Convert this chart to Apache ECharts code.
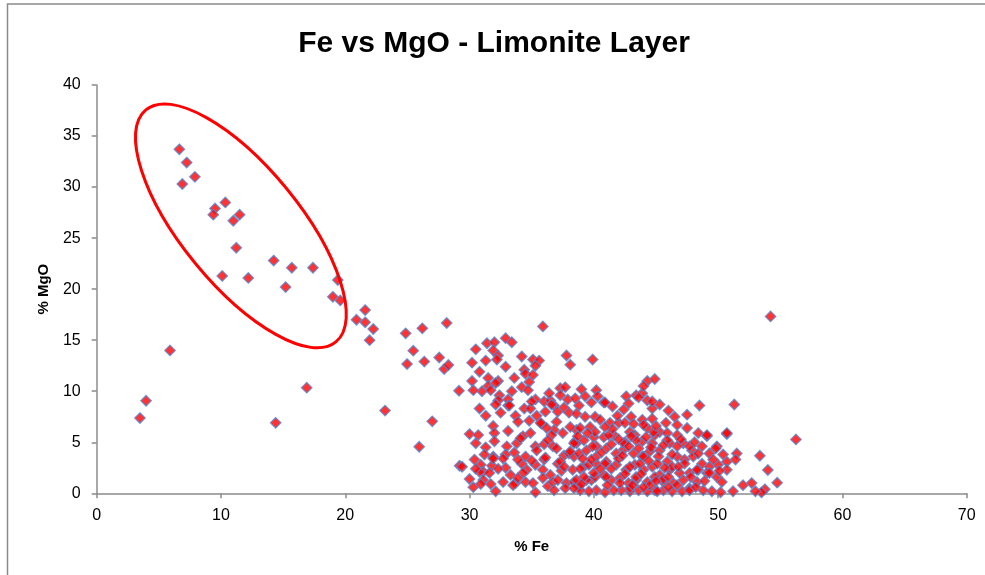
<!DOCTYPE html>
<html>
<head>
<meta charset="utf-8">
<script src="https://cdn.jsdelivr.net/npm/echarts@6/dist/echarts.min.js"></script>
<style>
  html, body { margin: 0; padding: 0; background: #fff; }
  #chart { width: 985px; height: 575px; }
</style>
</head>
<body>
<div id="chart"></div>
<script>
// Fe (%) vs MgO (%) assays, limonite layer. Each pair is [Fe, MgO].

// High-MgO samples at low Fe (the circled group)
const highMgoSamples = [
  [6.65, 33.7], [7.24, 32.4], [7.9, 31.0], [6.89, 30.3], [10.35, 28.5], [9.52, 27.9],
  [9.38, 27.3], [11.5, 27.3], [10.99, 26.7], [11.23, 24.05], [14.24, 22.8], [15.7, 22.1],
  [17.4, 22.1], [10.1, 21.3], [12.2, 21.1], [15.2, 20.2], [19.4, 20.9]
];

// Transitional and outlying samples
const outlierSamples = [
  [19.0, 19.25], [19.6, 18.9], [21.6, 17.95], [20.9, 17.0], [21.6, 16.75], [22.25, 16.1],
  [21.96, 15.0], [5.9, 14.0], [3.97, 9.07], [3.48, 7.37], [16.9, 10.35], [14.4, 6.9],
  [23.2, 8.1], [24.86, 15.67], [26.2, 16.16], [28.16, 16.68], [25.47, 13.97], [24.97, 12.66],
  [26.36, 12.9], [27.56, 13.3], [27.96, 12.17], [28.3, 12.57], [27.0, 7.05], [25.95, 4.56],
  [29.15, 10.05], [29.2, 2.7], [35.9, 16.35], [54.22, 17.33], [56.26, 5.28], [54.0, 2.28],
  [54.75, 1.04], [53.76, 0.39], [53.49, 0.09], [53.36, 3.68]
];

// Main limonite cluster, Fe 30-39 %
const clusterLowFe = [
  [30.5,14.1],[31.4,14.7],[32.0,14.8],[31.9,14.0],[32.3,13.5],[32.2,13.1],[32.9,15.2],[33.4,14.8],
  [34.2,13.4],[35.1,13.1],[35.6,13.0],[35.3,12.5],[34.4,12.1],[34.5,11.7],[35.1,11.6],[34.8,10.9],
  [34.2,10.4],[34.7,10.1],[30.2,12.8],[31.3,13.0],[30.8,11.9],[31.5,11.3],[30.2,11.0],[32.3,11.0],
  [31.5,10.5],[31.0,10.0],[31.7,10.1],[30.3,10.1],[32.4,9.6],[32.3,9.1],[33.1,9.2],[33.4,10.0],
  [32.1,8.7],[33.1,8.6],[30.8,8.3],[32.5,7.9],[34.4,8.3],[34.9,8.3],[33.7,7.6],[33.9,7.0],
  [34.8,7.1],[35.4,7.6],[35.8,6.8],[35.3,9.2],[36.0,9.0],[36.5,9.1],[36.8,8.6],[36.1,8.0],
  [37.1,8.0],[37.3,10.3],[37.7,10.4],[37.3,9.6],[37.9,9.2],[37.6,8.4],[38.0,7.9],[37.8,13.5],
  [38.1,12.6],[37.0,7.0],[36.8,6.2],[37.5,5.9],[36.6,5.7],[38.6,6.2],[38.5,5.1],[30.0,5.8],
  [30.7,5.7],[30.5,4.9],[31.3,4.5],[31.9,6.6],[32.0,5.9],[32.0,5.1],[33.0,4.6],[32.9,3.8],
  [33.6,4.0],[33.8,4.9],[34.3,5.6],[35.3,4.6],[36.0,4.8],[36.7,4.6],[37.6,3.7],[38.0,3.9],
  [38.6,4.9],[30.4,3.3],[30.9,2.8],[31.1,2.1],[31.8,2.7],[31.9,3.6],[32.7,3.4],[32.9,2.5],
  [33.3,1.8],[34.2,2.9],[34.5,3.6],[34.6,2.3],[35.3,2.8],[36.0,3.3],[35.9,2.3],[36.5,1.8],
  [37.1,2.9],[37.4,2.2],[38.3,2.3],[30.0,1.4],[30.3,0.6],[31.1,1.3],[31.6,2.0],[31.7,0.9],
  [32.1,0.2],[32.7,1.1],[33.7,1.0],[34.5,1.1],[35.1,1.0],[35.3,0.1],[35.9,1.5],[36.3,0.7],
  [36.7,1.1],[37.1,1.3],[37.8,1.0],[37.7,0.5],[38.4,1.1],[34.3,2.0],[30.8,2.1],
  [32.1,10.8],[35.0,9.0],[35.7,6.9],[36.6,8.7],[34.1,5.4],[35.4,4.2],[36.1,3.5],[37.3,3.1],
  [38.4,3.6],[39.2,2.6],[33.5,0.8],[38.8,0.7],[39.8,1.3],[29.4,2.6],[31.9,3.4],[33.2,8.6],
  [36.3,5.2],[37.0,4.4],[35.0,3.2],[33.9,3.3],[32.3,2.4],[31.2,3.8],[30.5,2.4],[30.9,0.9],
  [33.9,1.5],[36.8,0.3],[37.6,2.6],[36.2,6.4],[34.9,5.9],[33.1,6.1],[31.3,7.6],[33.6,11.3],
  [32.9,12.4],[36.4,9.8],[38.8,8.6]
];

// Main limonite cluster, Fe 38-53 %
const clusterHighFe = [
  [39.9,13.1],[44.3,11.0],[44.9,11.2],[40.2,10.1],[39.0,10.2],[38.5,9.3],[39.3,9.5],[39.8,8.9],
  [40.8,8.9],[42.6,9.5],[43.4,9.6],[43.9,9.8],[44.3,9.1],[44.7,8.3],[45.3,8.7],[42.4,8.2],
  [43.0,7.5],[48.5,8.6],[51.3,8.7],[47.5,7.7],[46.5,7.5],[43.9,7.2],[44.7,7.3],[38.6,7.8],
  [39.3,7.5],[40.1,7.5],[40.5,7.2],[38.1,6.5],[38.9,6.4],[39.7,6.5],[41.3,6.9],[42.0,6.9],
  [42.5,6.9],[43.2,6.8],[44.3,6.4],[45.3,6.0],[45.9,5.9],[46.7,6.7],[47.5,6.4],[48.4,5.9],
  [49.1,5.6],[50.7,5.8],[51.5,3.9],[49.9,4.6],[50.4,3.8],[49.3,3.9],[48.7,4.6],[47.9,4.2],
  [47.2,4.9],[46.7,4.6],[46.1,4.9],[45.3,4.2],[44.7,4.9],[43.9,5.1],[43.3,5.7],[42.5,5.0],
  [41.6,5.7],[40.8,5.5],[40.0,5.5],[39.2,5.2],[38.4,4.9],[38.1,4.1],[38.8,3.9],[39.4,4.2],
  [40.2,4.6],[41.0,4.4],[41.8,3.9],[42.4,4.3],[43.2,3.9],[43.9,3.6],[44.5,4.1],[45.2,3.6],
  [45.9,3.1],[46.7,3.6],[47.3,3.3],[48.0,3.6],[48.7,2.9],[49.3,2.6],[50.0,2.8],[50.7,3.1],
  [51.4,3.3],[52.0,0.8],[52.7,1.0],[53.0,0.2],[51.2,0.2],[50.2,0.1],[49.5,0.2],[48.8,0.3],
  [48.3,1.1],[47.7,2.0],[48.4,2.3],[49.1,2.0],[49.9,1.6],[50.7,2.3],[50.3,1.1],[46.9,2.0],
  [46.1,2.3],[45.3,1.8],[44.7,2.6],[44.0,2.3],[43.3,2.8],[42.6,2.3],[41.8,2.8],[41.0,3.1],
  [40.2,2.9],[39.6,2.8],[38.9,2.4],[38.6,1.3],[39.4,1.3],[40.1,1.6],[40.8,1.8],[41.4,1.3],
  [42.1,1.5],[42.8,1.0],[43.4,1.3],[44.3,1.1],[44.9,1.6],[45.6,1.1],[46.4,1.0],[47.2,1.3],
  [47.7,0.5],[47.1,0.2],[46.3,0.2],[45.6,0.3],[44.9,0.3],[44.3,0.2],[43.6,0.3],[42.9,0.2],
  [42.2,0.3],[41.6,0.3],[40.9,0.1],[40.2,0.3],[39.6,0.2],[38.9,0.3],[38.4,0.5],[39.2,1.6],
  [43.4,5.2],[44.9,5.7],[42.9,6.0],
  [40.9,8.9],[43.6,9.4],[44.7,9.0],[49.1,5.7],[49.8,4.4],[50.7,5.9],[40.1,6.0],[41.2,5.7],
  [42.4,4.9],[43.0,5.6],[44.0,6.7],[44.8,6.0],[45.9,5.2],[46.7,5.7],[47.7,4.6],[48.4,3.9],
  [40.2,3.6],[40.9,2.9],[42.0,3.4],[42.9,2.6],[44.0,3.6],[45.1,2.9],[46.3,2.6],[47.3,2.9],
  [48.3,2.3],[49.3,2.0],[40.0,2.0],[41.0,1.6],[42.1,1.0],[43.4,1.6],[44.5,0.8],[45.6,1.4],
  [46.7,0.8],[47.7,0.3],[42.9,0.5],[45.1,0.2],
  [41.5,6.3],[42.0,5.3],[42.8,4.6],[43.6,4.4],[44.2,5.5],[44.6,4.5],[45.6,4.7],[46.3,3.8],
  [45.7,2.5],[44.4,3.2],[43.7,2.9],[42.3,3.7],[41.4,4.8],[40.6,4.0],[39.8,3.3],[39.1,3.4],
  [39.9,4.6],[41.4,2.4],[42.5,1.9],[43.8,1.9],[45.0,1.2],[46.0,1.6],[46.8,2.6],[47.8,1.6],
  [48.9,1.2],[49.6,3.3],[50.1,2.2],[41.1,0.8],[43.1,0.8],[44.0,0.6],[46.0,0.6],[48.2,0.6],
  [39.0,0.9],[40.5,2.4],[45.0,6.6],[45.8,6.9],[47.0,5.3],[48.1,5.0],[41.9,7.6],[40.9,6.5],
  [39.5,5.9],[38.7,5.6],[40.3,9.5],[41.5,8.5],[42.8,8.8],[46.0,8.1],[44.0,10.5]
];

// Outline drawn around the high-MgO group: centre in data units, radii in pixels
const groupOutlineCentre = [11.6, 26.2];

const chart = echarts.init(document.getElementById('chart'), null, { renderer: 'canvas' });

const markerStyle = {
  color: '#FF0000',
  borderColor: '#5687CF',
  borderWidth: 1.3
};

function diamondSeries(name, data) {
  return {
    name: name,
    type: 'scatter',
    data: data,
    symbol: 'diamond',
    symbolSize: 10.5,
    itemStyle: markerStyle,
    emphasis: { disabled: true },
    z: 2
  };
}

const axisGrey = '#8C8C8C';
const labelFont = 'Liberation Sans, Arial, sans-serif';

chart.setOption({
  animation: false,
  backgroundColor: '#ffffff',
  title: {
    text: 'Fe vs MgO - Limonite Layer',
    left: 489,
    textAlign: 'center',
    top: 24,
    textStyle: {
      fontFamily: labelFont,
      fontWeight: 'bold',
      fontSize: 30,
      color: '#000'
    }
  },
  grid: {
    left: 96.7,
    right: 18.3,
    top: 85,
    bottom: 81.7,
    containLabel: false
  },
  xAxis: {
    type: 'value',
    min: 0,
    max: 70,
    interval: 10,
    name: '% Fe',
    nameLocation: 'middle',
    nameGap: 46,
    nameTextStyle: { fontFamily: labelFont, fontWeight: 'bold', fontSize: 15, color: '#000' },
    axisLine: { lineStyle: { color: axisGrey, width: 1.5 } },
    axisTick: { show: true, inside: false, length: 5, lineStyle: { color: axisGrey, width: 1.5 } },
    axisLabel: { fontFamily: labelFont, fontSize: 16, color: '#000', margin: 14 },
    splitLine: { show: false }
  },
  yAxis: {
    type: 'value',
    min: 0,
    max: 40,
    interval: 5,
    name: '% MgO',
    nameLocation: 'middle',
    nameGap: 45,
    nameRotate: 90,
    nameTextStyle: { fontFamily: labelFont, fontWeight: 'bold', fontSize: 15, color: '#000' },
    axisLine: { show: true, lineStyle: { color: axisGrey, width: 1.5 } },
    axisTick: { show: true, inside: false, length: 5, lineStyle: { color: axisGrey, width: 1.5 } },
    axisLabel: { fontFamily: labelFont, fontSize: 16, color: '#000', margin: 16 },
    splitLine: { show: false }
  },
  series: [
    diamondSeries('High MgO', highMgoSamples),
    diamondSeries('Outliers', outlierSamples),
    diamondSeries('Cluster A', clusterLowFe),
    diamondSeries('Cluster B', clusterHighFe)
  ]
});

// Frame lines along the top and left edges, and the ellipse around the high-MgO group
const centrePx = chart.convertToPixel({ gridIndex: 0 }, groupOutlineCentre);
chart.setOption({
  graphic: [
    {
      type: 'polyline',
      shape: { points: [[7.5, 600], [7.5, 4], [990, 4]] },
      style: { stroke: '#8A8A8A', lineWidth: 1.5, fill: null },
      silent: true,
      z: 0
    },
    {
      type: 'ellipse',
      x: centrePx[0],
      y: centrePx[1],
      rotation: -50.7 * Math.PI / 180,
      shape: { cx: 0, cy: 0, rx: 150, ry: 59 },
      style: { stroke: '#FF0000', lineWidth: 3, fill: null },
      silent: true,
      z: 10
    }
  ]
});
</script>
</body>
</html>
